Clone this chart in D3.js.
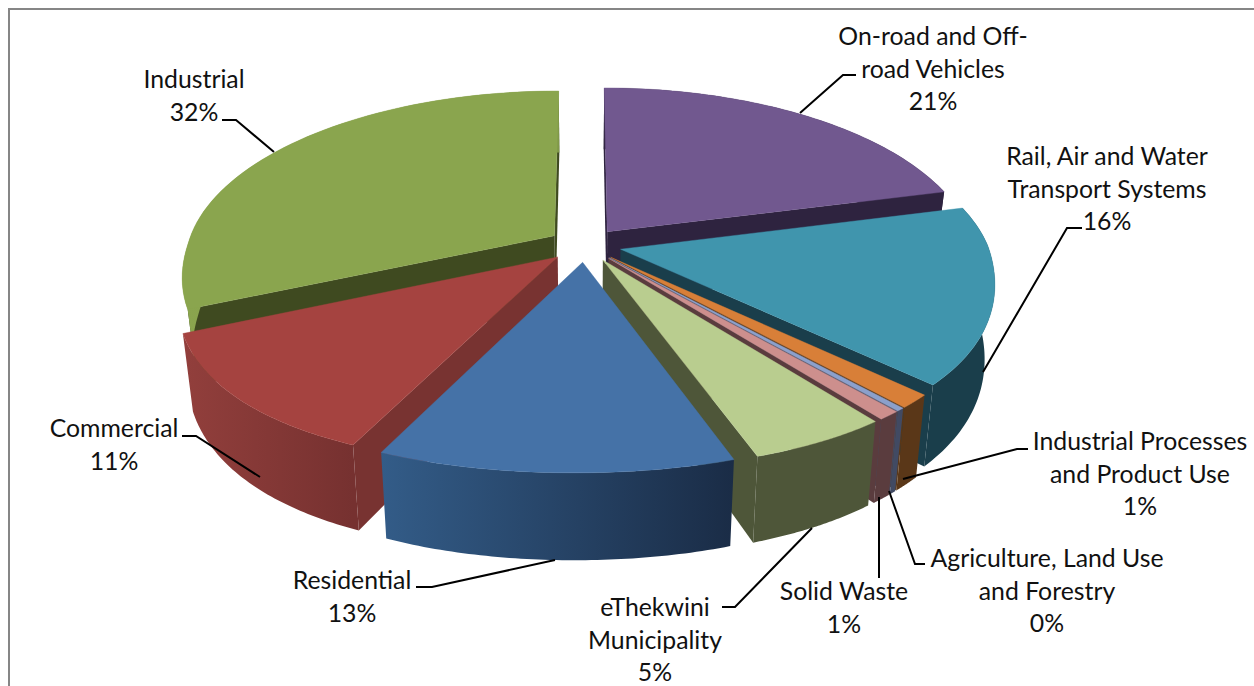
<!DOCTYPE html>
<html><head><meta charset="utf-8">
<style>html,body{margin:0;padding:0;background:#fff}svg{display:block}text{font-family:Lato,sans-serif;font-size:24.8px;fill:#111}</style>
<script src="https://cdn.jsdelivr.net/npm/d3@7/dist/d3.min.js"></script>
</head><body><svg id="c" width="1254" height="686"></svg>
<script>
const categories = ["On-road and Off-road Vehicles","Rail, Air and Water Transport Systems","Industrial Processes and Product Use","Agriculture, Land Use and Forestry","Solid Waste","eThekwini Municipality","Residential","Commercial","Industrial"];
const shares = [21.0,15.9,1.2,0.3,0.8,5.0,12.95,11.25,31.6];
const percentLabels = ["21%","16%","1%","0%","1%","5%","13%","11%","32%"];
const labelLines = [["On-road and Off-","road Vehicles"],["Rail, Air and Water","Transport Systems"],["Industrial Processes","and Product Use"],["Agriculture, Land Use","and Forestry"],["Solid Waste"],["eThekwini","Municipality"],["Residential"],["Commercial"],["Industrial"]];

const topColors  = ["#71588f","#4095ad","#d87f38","#8ba0cc","#cd8f8d","#b9cd8f","#4572a7","#a54340","#8aa54e"];
const sideColors = ["#2e233f","#1a3e4b","#5a3718","#414a63","#5a3c3e","#4e5639","#315a84","#783331","#3f4a20"];
const wallStops  = [["#2e233f","#2e233f"],["#1a3e4b","#1a3e4b"],["#5a3718","#5a3718"],["#414a63","#414a63"],["#5a3c3e","#5a3c3e"],["#4e5639","#4e5639"],["#335c88","#1a2c46"],["#923f3c","#763130"],["#8aa54e","#7f9848"]];
const drawOrder = [0,8,1,2,3,4,5,7,6];
const labelPlace = [[933,36],[1107,156],[1140,441],[1047,558],[844,591],[655,607],[352,580],[114,428],[194,79]];
const leaders = [
 [[800,113],[843,75],[856,75]],
 [[983,372],[1067,228],[1082,228]],
 [[903,479],[1017,449],[1028,449]],
 [[889,491],[915,564],[925,564]],
 [[879,497],[879,578]],
 [[812,528],[735,607],[722,607]],
 [[555,560],[432,587],[416,587]],
 [[260,477],[196,436],[182,436]],
 [[274,152],[236,120],[222,120]]];

const cx=585, cy=245, Rx=367, Ry=170.7, persp=0.16, explode=0.1, depth=72, shear=-8, lineH=32.7, bulge=0.03, taper=0.025;
const svg=d3.select("#c");
const xS=d3.scaleLinear().domain([-1,1]).range([cx-Rx,cx+Rx]);
const yS=d3.scaleLinear().domain([-1,1]).range([cy-Ry,cy+Ry]);
const project=(u,v,z)=>{
  const s=1/(1-persp*v);
  const x=xS(u*s)+shear*Math.max(v,0);
  return [cx+(x-cx)*(1-taper*z), yS(v*s)+z*depth*s];
};
const pie=d3.pie().sort(null).startAngle(0).endAngle(2*Math.PI);
const arcs=pie(shares);
const line=d3.line();
const area=p=>{let a=0;p.forEach((q,i)=>{const r=p[(i+1)%p.length];a+=q[0]*r[1]-r[0]*q[1];});return a;};

const defs=svg.append("defs");
drawOrder.forEach(i=>{
  const d=arcs[i], mid=(d.startAngle+d.endAngle)/2;
  const ox=explode*Math.sin(mid), oy=-explode*Math.cos(mid);
  const rad=a=>1+(Math.cos(a)<0?bulge*Math.sin(2*a)*Math.sin(2*a):0);
  const pt=(a,z)=>project(ox+rad(a)*Math.sin(a),oy-rad(a)*Math.cos(a),z);
  const apex=z=>project(ox,oy,z);
  const angs=d3.range(0,61).map(k=>d.startAngle+(d.endAngle-d.startAngle)*k/60);
  const g=svg.append("g");
  const side=sideColors[i];
  [[d.startAngle,1],[d.endAngle,-1]].forEach(([a,sgn])=>{
    const poly=[apex(0),pt(a,0),pt(a,1),apex(1)];
    if(area(poly)*sgn<0) g.append("path").attr("d",line(poly)+"Z").attr("fill",side);
  });
  const topArc=angs.map(a=>pt(a,0)), botArc=angs.map(a=>pt(a,1)).reverse();
  const xs=topArc.map(p=>p[0]);
  const gid="w"+i;
  const gr=defs.append("linearGradient").attr("id",gid).attr("gradientUnits","userSpaceOnUse")
    .attr("x1",d3.min(xs)).attr("x2",d3.max(xs)).attr("y1",0).attr("y2",0);
  gr.append("stop").attr("offset",0).attr("stop-color",wallStops[i][0]);
  gr.append("stop").attr("offset",1).attr("stop-color",wallStops[i][1]);
  g.append("path").attr("d",line(topArc.concat(botArc))+"Z").attr("fill",`url(#${gid})`);
  g.append("path").attr("d",line([apex(0)].concat(topArc))+"Z").attr("fill",topColors[i]).attr("stroke",topColors[i]).attr("stroke-width",0.4);
});

svg.append("path").attr("d",line([[9,686],[9,9],[1254,9]])).attr("fill","none").attr("stroke","#868686").attr("stroke-width",2);

leaders.forEach(l=>svg.append("path").attr("d",line(l)).attr("fill","none").attr("stroke","#000").attr("stroke-width",2));
categories.forEach((c,i)=>{
  const rows=labelLines[i].concat([percentLabels[i]]);
  const t=svg.append("text").attr("text-anchor","middle");
  rows.forEach((r,k)=>t.append("tspan").attr("x",labelPlace[i][0]).attr("y",labelPlace[i][1]+k*lineH).attr("dy","0.36em").text(r));
});
</script></body></html>
